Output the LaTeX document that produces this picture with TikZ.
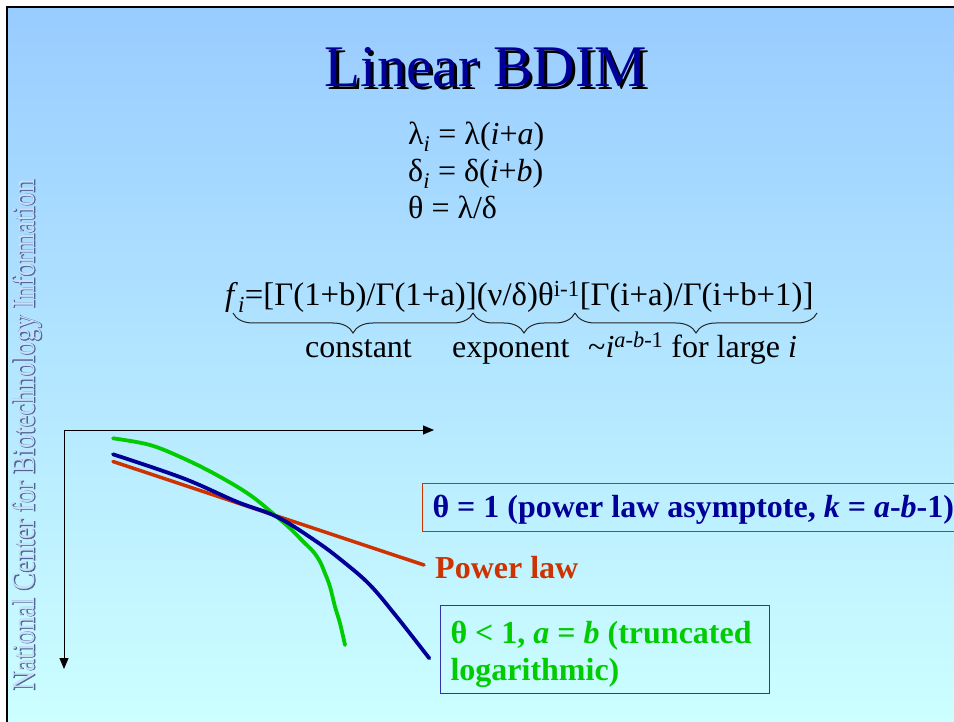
\documentclass[tikz,border=0pt]{standalone}
\usepackage{fontspec}
\setmainfont{Liberation Serif}
\newfontfamily\ncbiheavy[FakeBold=2.2]{Liberation Serif}
\usetikzlibrary{arrows.meta,decorations.pathreplacing}
\newcommand\normsp{\spaceskip=0.25em\relax\xspaceskip=0.3em\relax}
\definecolor{bgtop}{RGB}{153,204,255}
\definecolor{bgbot}{RGB}{204,255,255}
\definecolor{navy}{RGB}{0,0,153}
\definecolor{rust}{RGB}{204,51,0}
\definecolor{lgreen}{RGB}{0,204,0}
\definecolor{boxblue}{RGB}{51,51,170}
\definecolor{ncbifill}{RGB}{200,224,250}
\definecolor{ncbiline}{RGB}{80,100,150}
\begin{document}
\begin{tikzpicture}[x=1pt,y=-1pt,
  eq/.style={font=\fontsize{32}{37}\selectfont, anchor=base west, inner sep=0pt},
  bfeq/.style={font=\fontsize{32}{37}\selectfont\bfseries},
  brc/.style={decorate, decoration={brace, amplitude=20pt, mirror}, line width=1pt, black!85},
  axis/.style={line width=1pt, -{Triangle[length=11pt,width=9pt]}},
  curve/.style={line width=3.8pt, line cap=round},
  ncbi/.style={rotate=90, yscale=1.2, inner sep=0pt}]
\useasboundingbox (0,0) rectangle (954,722);
\fill[white] (0,0) rectangle (954,722);
\shade[top color=bgtop, bottom color=bgbot] (7,7) rectangle (954,722);
\draw[line width=2pt] (7,722) -- (7,7) -- (954,7);
% vertical watermark
\node[ncbi, font=\fontsize{27}{27}\ncbiheavy, text=ncbiline] at (27,435) {National Center for Biotechnology Information};
\node[ncbi, font=\fontsize{27}{27}\selectfont, text=ncbifill] (ncbi) at (27,435) {National Center for Biotechnology Information};
% title
\node[font=\fontsize{59}{70}\selectfont, text=black, anchor=base, inner sep=0pt] at (489,90) {Linear BDIM};
\node[font=\fontsize{59}{70}\selectfont, text=navy, anchor=base, inner sep=0pt] (title) at (486,87) {Linear BDIM};
% rate equations
\node[eq] (eq1) at (408,145) {λ\textsubscript{\textit{i}} = λ(\textit{i}+\textit{a})};
\node[eq] (eq2) at (408,182) {δ\textsubscript{\textit{i}} = δ(\textit{i}+\textit{b})};
\node[eq] (eq3) at (408,219) {θ = λ/δ};
% formula
\node[eq, font=\fontsize{32.8}{37}\selectfont] (fi) at (225,306) {\textit{f}\textsubscript{\textit{i}}=[Γ(1+b)/Γ(1+a)](ν/δ)θ\textsuperscript{i-1}[Γ(i+a)/Γ(i+b+1)]};
\coordinate (b0) at (233,313);
\coordinate (b1) at (473,313);
\coordinate (b2) at (575,313);
\coordinate (b3) at (817,313);
\draw[brc] (b0) -- (b1);
\draw[brc] (b1) -- (b2);
\draw[brc] (b2) -- (b3);
\node[eq] (lc) at (305,357) {constant};
\node[eq] (le) at (452,357) {exponent};
\node[eq] (ll) at (588,357) {\symbol{126}\textit{i}\textsuperscript{\textit{a-b}-1} for large \textit{i}};
% axes
\coordinate (org) at (64,430);
\coordinate (xend) at (434,430);
\coordinate (yend) at (64,669);
\draw[axis] (org) -- (xend);
\draw[axis] (org) -- (yend);
% curves
\draw[curve, rust, line width=3.5pt] (113,461.5) -- (424,565);
\draw[curve, lgreen] plot[smooth, tension=0.6] coordinates {(113,438.3) (150,445) (183.3,458.3) (216.7,475) (250,495) (276.7,516.7) (290,528.3) (303.3,541.7) (313.3,551.7) (320,561.7) (325,573.3) (330,586.7) (335,606.7) (340,623.3) (345,645)};
\draw[curve, navy] plot[smooth, tension=0.6] coordinates {(113,454.3) (183.3,478.3) (236.7,501.7) (276.7,516.7) (316.7,541.7) (343.3,561.7) (370,585) (396.7,616.7) (429.3,658.3)};
% labels
\node[bfeq, draw=rust, line width=1pt, text=navy, anchor=north west, text width=620, align=left, inner xsep=10, inner ysep=9.5, text height=24.5, text depth=4.5] (box1) at (422,483) {\normsp θ = 1 (power law asymptote, \textit{k} = \textit{a}-\textit{b}-1)};
\node[bfeq, text=rust, anchor=base west, inner sep=0pt] (pl) at (435,578) {Power law};
\node[bfeq, draw=boxblue, line width=1pt, text=lgreen, anchor=north west, text width=309, align=left, inner xsep=10, minimum height=88] (box2) at (440,605) {\normsp\rule{0pt}{32pt}θ < 1, \textit{a} = \textit{b} (truncated\\logarithmic)};
\end{tikzpicture}
\end{document}
